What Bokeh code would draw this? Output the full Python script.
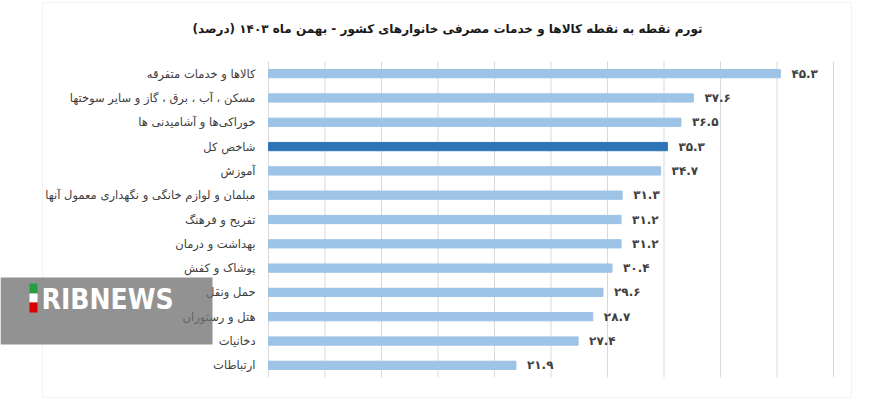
from bokeh.plotting import figure
from bokeh.models import ColumnDataSource, Range1d, Label, BoxAnnotation
from bokeh.core.properties import value
from bokeh.embed import file_html
from bokeh.resources import INLINE

RLM = "\u200f"

title_text = "تورم نقطه به نقطه کالاها و خدمات مصرفی خانوارهای کشور - بهمن ماه ۱۴۰۳ (درصد)"

categories = [
    "کالاها و خدمات متفرقه",
    "مسکن ، آب ، برق ، گاز و سایر سوختها",
    "خوراکی‌ها و آشامیدنی ها",
    "شاخص کل",
    "آموزش",
    "مبلمان و لوازم خانگی و نگهداری معمول آنها",
    "تفریح و فرهنگ",
    "بهداشت و درمان",
    "پوشاک و کفش",
    "حمل ونقل",
    "هتل و رستوران",
    "دخانیات",
    "ارتباطات",
]
values = [45.3, 37.6, 36.5, 35.3, 34.7, 31.3, 31.2, 31.2, 30.4, 29.6, 28.7, 27.4, 21.9]
highlight = "شاخص کل"
grid_ticks = [0, 5, 10, 15, 20, 25, 30, 35, 40, 45, 50]
x_min, x_max = 0, 50

LIGHT = "#9DC3E6"
DARK = "#2E75B6"
TEXT = "#404040"
GRID = "#d9d9d9"

fa_digits = str.maketrans("0123456789", "۰۱۲۳۴۵۶۷۸۹")
n = len(categories)
pos = list(range(n))
cat_labels = [RLM + c + RLM for c in categories]
val_labels = [f"{v:.1f}".translate(fa_digits) for v in values]
colors = [DARK if c == highlight else LIGHT for c in categories]

src = ColumnDataSource(dict(pos=pos, cat=cat_labels, val=values, lab=val_labels, col=colors))

W, H = 882, 406
FL, FR, FT, FB = 268, 833, 61, 377  # plotting area edges (canvas px)

# map the whole canvas: x values 0..50 fall on px FL..FR, rows on FT..FB
kx = (FR - FL) / (x_max - x_min)
row = (FB - FT) / n
x_range = Range1d(x_min - FL / kx, x_max + (W - FR) / kx)
y_range = Range1d((H - FT) / row - 0.5, -FT / row - 0.5)

p = figure(width=W, height=H, output_backend="svg", toolbar_location=None,
           x_range=x_range, y_range=y_range,
           x_axis_location=None, y_axis_location=None,
           min_border=0, min_border_left=0, min_border_right=0,
           min_border_top=0, min_border_bottom=0)
p.outline_line_color = None
p.background_fill_color = "white"
p.border_fill_color = "white"
p.grid.visible = False

# chart border
p.add_layout(BoxAnnotation(left=42, right=851, top=H - 2, bottom=H - 397,
                           left_units="screen", right_units="screen",
                           top_units="screen", bottom_units="screen",
                           fill_alpha=0, line_color=GRID, line_width=1, level="underlay"))

# vertical gridlines (and the category axis line at 0)
p.segment(x0=grid_ticks, x1=grid_ticks, y0=[-0.5] * len(grid_ticks),
          y1=[n - 0.5] * len(grid_ticks), line_color=GRID, line_width=1)

p.hbar(y="pos", right="val", left=0, height=0.34, color="col", source=src)

# value labels
p.text(x="val", y="pos", text="lab", source=src, x_offset=11,
       text_align="left", text_baseline="middle",
       text_font=value("DejaVu Sans"), text_font_size="12px",
       text_font_style="bold", text_color=TEXT)

# category labels
p.text(x=x_min, y="pos", text="cat", source=src, x_offset=-13,
       text_align="right", text_baseline="middle",
       text_font=value("DejaVu Sans"), text_font_size="11.5px",
       text_color=TEXT)

# title
p.add_layout(Label(x=447, y=H - 28, x_units="screen", y_units="screen",
                   text=RLM + title_text + RLM, text_align="center", text_baseline="middle",
                   text_font="DejaVu Sans", text_font_size="12px", text_font_style="bold",
                   text_color="#1a1a1a"))

# watermark
p.add_layout(BoxAnnotation(left=0, right=212, top=H - 277, bottom=H - 344,
                           left_units="screen", right_units="screen",
                           top_units="screen", bottom_units="screen",
                           fill_color="#6e6e6e", fill_alpha=0.75, line_color=None,
                           level="overlay"))
for (t, b, c) in [(283, 293, "#239f40"), (293, 302, "#ffffff"), (302, 312, "#da0000")]:
    p.add_layout(BoxAnnotation(left=29, right=37, top=H - t, bottom=H - b,
                               left_units="screen", right_units="screen",
                               top_units="screen", bottom_units="screen",
                               fill_color=c, fill_alpha=1, line_color=None, level="overlay"))
p.add_layout(Label(x=41, y=H - 299, x_units="screen", y_units="screen",
                   text="RIBNEWS", text_align="left", text_baseline="middle",
                   text_font="'Liberation Sans Narrow', 'DejaVu Sans Condensed', sans-serif",
                   text_font_size="28px", text_font_style="bold", text_color="white",
                   level="overlay"))

open("out.html", "w").write(file_html(p, INLINE))
